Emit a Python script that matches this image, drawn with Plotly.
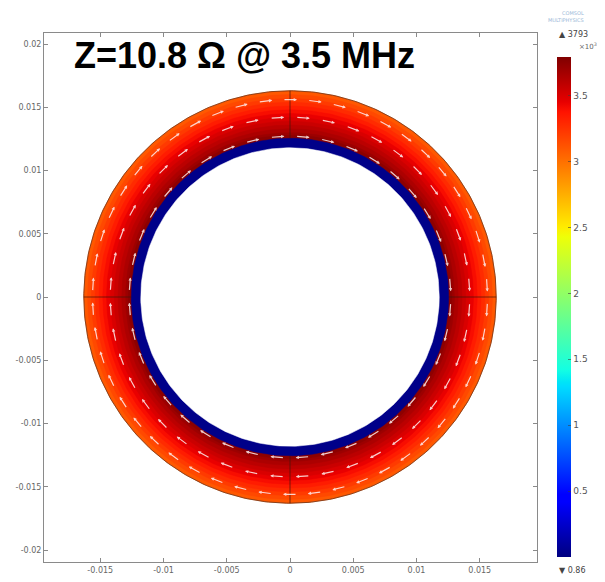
import numpy as np
import plotly.graph_objects as go
from plotly.colors import sample_colorscale

# ---------------- data ----------------
# radial profile of the surface value (x10^3), outer radius of each band in metres
band_radius = [0.0163, 0.0160, 0.0157, 0.0154, 0.0151, 0.0148, 0.0145, 0.0142, 0.0139, 0.0136, 0.0133, 0.0130, 0.0128]
band_value = [3.10, 3.16, 3.22, 3.28, 3.34, 3.40, 3.45, 3.50, 3.55, 3.60, 3.65, 3.70, 3.75]
blue_radius = 0.01255
blue_value = 0.03
hole_radius = 0.01180

# current-direction arrows (clockwise), rows at radii and arrow count per row
arrow_radius = [0.0127, 0.0142, 0.0156]
arrow_count = [40, 44, 50]

cmin, cmax = 0.00086, 3.793
cbar_ticks = [0.5, 1, 1.5, 2, 2.5, 3, 3.5]
cbar_ticktext = ["0.5", "1", "1.5", "2", "2.5", "3", "3.5"]
x_ticks = [-0.015, -0.01, -0.005, 0, 0.005, 0.01, 0.015]
x_ticktext = ["-0.015", "-0.01", "-0.005", "0", "0.005", "0.01", "0.015"]
y_ticks = [-0.02, -0.015, -0.01, -0.005, 0, 0.005, 0.01, 0.015, 0.02]
y_ticktext = ["-0.02", "-0.015", "-0.01", "-0.005", "0", "0.005", "0.01", "0.015", "0.02"]
title_text = "Z=10.8 Ω @ 3.5 MHz"

# ---------------- figure ----------------
OFF = 8  # page body margin
W, H = 605 - OFF, 582 - OFF
# plot area on page: x 44..537, y 33..562
ML, MT = 44 - OFF, 33 - OFF
MR, MB = W - (537 - OFF), H - (562 - OFF)
pw, ph = W - ML - MR, H - MT - MB
scale = 12650.0  # px per metre
CX, CY = 290, 297  # page position of origin
x0 = (44 - CX) / scale
x1 = (537 - CX) / scale
y1 = (CY - 33) / scale
y0 = (CY - 562) / scale

def px(xp):  # page x -> paper fraction
    return (xp - 44) / pw

def py(yp):  # page y -> paper fraction
    return (562 - yp) / ph

# classic "jet" colour map
colorscale = [
    [0.0, "rgb(0,0,128)"], [0.11, "rgb(0,0,255)"], [0.125, "rgb(0,0,255)"],
    [0.34, "rgb(0,219,255)"], [0.35, "rgb(0,229,247)"], [0.375, "rgb(20,255,226)"],
    [0.64, "rgb(238,255,8)"], [0.66, "rgb(255,236,0)"], [0.89, "rgb(255,19,0)"],
    [0.91, "rgb(232,0,0)"], [1.0, "rgb(128,0,0)"]]
theta = np.linspace(0, 2 * np.pi, 361)

def color_of(v):
    return sample_colorscale(colorscale, [(v - cmin) / (cmax - cmin)])[0]

fig = go.Figure()

def disk(r, fillcolor):
    fig.add_trace(go.Scatter(
        x=r * np.cos(theta), y=r * np.sin(theta), mode="lines",
        fill="toself", fillcolor=fillcolor,
        line=dict(width=0.5, color=fillcolor),
        hoverinfo="skip", showlegend=False))

for r, v in zip(band_radius, band_value):
    disk(r, color_of(v))
disk(blue_radius, color_of(blue_value))
disk(hole_radius, "white")

# outer boundary
fig.add_trace(go.Scatter(
    x=band_radius[0] * np.cos(theta), y=band_radius[0] * np.sin(theta),
    mode="lines", line=dict(color="rgba(110,50,20,0.8)", width=1),
    hoverinfo="skip", showlegend=False))

# geometry partition lines across the ring
for ang in [0, 0.5 * np.pi, np.pi, 1.5 * np.pi]:
    fig.add_trace(go.Scatter(
        x=[blue_radius * np.cos(ang), band_radius[0] * np.cos(ang)],
        y=[blue_radius * np.sin(ang), band_radius[0] * np.sin(ang)],
        mode="lines", line=dict(color="rgba(70,20,10,0.7)", width=1),
        hoverinfo="skip", showlegend=False))

# dummy trace for colour bar
fig.add_trace(go.Scatter(
    x=[0, 0], y=[0, 0], mode="markers",
    marker=dict(color=[cmin, cmax], colorscale=colorscale, cmin=cmin, cmax=cmax,
                opacity=0, size=1, showscale=True,
                colorbar=dict(
                    x=px(557), xanchor="left", xpad=0,
                    y=py(557), yanchor="bottom", ypad=0,
                    len=500 / ph, lenmode="fraction",
                    thickness=14, outlinewidth=0,
                    tickvals=cbar_ticks, ticktext=cbar_ticktext,
                    ticks="inside", ticklen=3, tickcolor="rgba(60,60,60,0.6)",
                    tickfont=dict(size=9, color="#555", family="DejaVu Sans"))),
    hoverinfo="skip", showlegend=False))

# arrows
annotations = []
arrow_len = 14 / scale
for r, n in zip(arrow_radius, arrow_count):
    for k in range(n):
        a = 2 * np.pi * (k + 0.5) / n
        # clockwise tangent direction
        tx, ty = np.sin(a), -np.cos(a)
        hx, hy = r * np.cos(a) + tx * arrow_len / 2, r * np.sin(a) + ty * arrow_len / 2
        sx, sy = r * np.cos(a) - tx * arrow_len / 2, r * np.sin(a) - ty * arrow_len / 2
        annotations.append(dict(
            x=hx, y=hy, ax=sx, ay=sy, xref="x", yref="y", axref="x", ayref="y",
            text="", showarrow=True, arrowhead=2, arrowsize=0.55, arrowwidth=1.2,
            arrowcolor="rgba(255,240,240,0.85)"))

annotations += [
    dict(text="<b>" + title_text + "</b>", xref="paper", yref="paper",
         x=px(244), y=py(56), xanchor="center", yanchor="middle",
         showarrow=False, font=dict(size=36, color="black", family="Liberation Sans Narrow, Arial Narrow, Liberation Sans")),
    dict(text="▲ 3793", xref="paper", yref="paper", x=px(557), y=py(34),
         xanchor="left", yanchor="middle", showarrow=False,
         font=dict(size=8, color="#444", family="DejaVu Sans")),
    dict(text="×10<sup>3</sup>", xref="paper", yref="paper", x=px(599), y=py(46),
         xanchor="right", yanchor="middle", showarrow=False,
         font=dict(size=7, color="#666", family="DejaVu Sans")),
    dict(text="▼ 0.86", xref="paper", yref="paper", x=px(557), y=py(570),
         xanchor="left", yanchor="middle", showarrow=False,
         font=dict(size=8, color="#444", family="DejaVu Sans")),
    dict(text="COMSOL<br>MULTIPHYSICS", xref="paper", yref="paper", x=px(586), y=py(17),
         xanchor="right", yanchor="middle", showarrow=False, align="right",
         font=dict(size=5, color="#9ab8d8", family="DejaVu Sans")),
]

axis_common = dict(showgrid=False, zeroline=False, showline=True, mirror="ticks",
                   linecolor="#8a8a8a", linewidth=1, ticks="inside", ticklen=4,
                   tickcolor="#8a8a8a",
                   tickfont=dict(size=8, color="#666", family="DejaVu Sans"))

fig.update_layout(
    width=W, height=H, margin=dict(l=ML, r=MR, t=MT, b=MB, autoexpand=False),
    paper_bgcolor="white", plot_bgcolor="white",
    xaxis=dict(range=[x0, x1], tickvals=x_ticks, ticktext=x_ticktext, **axis_common),
    yaxis=dict(range=[y0, y1], tickvals=y_ticks, ticktext=y_ticktext, **axis_common),
    annotations=annotations, showlegend=False)

fig.write_html("out.html")
